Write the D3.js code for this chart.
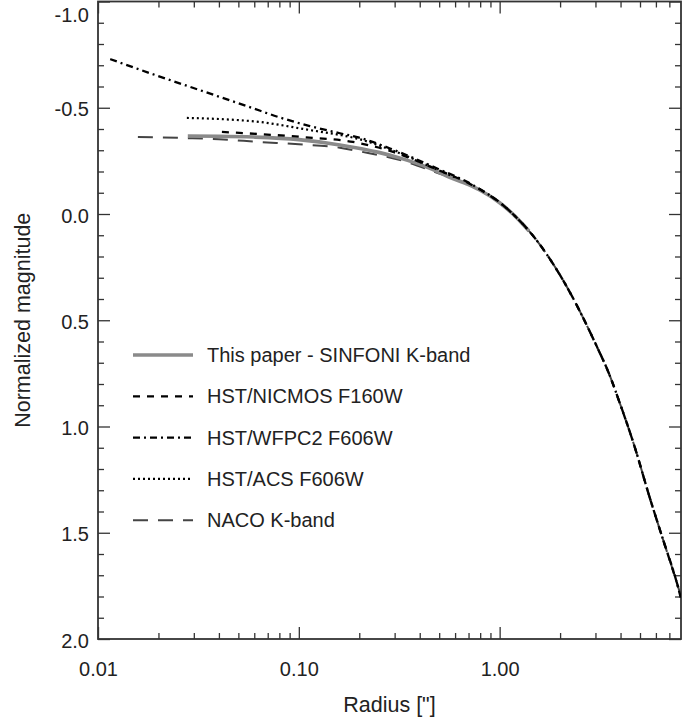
<!DOCTYPE html>
<html><head><meta charset="utf-8">
<script src="https://cdn.jsdelivr.net/npm/d3@7"></script>
<style>body{margin:0;background:#fff}svg{display:block}text{font-family:"Liberation Sans",Arial,Helvetica,sans-serif}</style>
</head><body>
<script>
// ---- data ----
const xMajorTicks = [0.01, 0.1, 1];
const xMajorLabels = ["0.01", "0.10", "1.00"];
const xMinorTicks = [0.02,0.03,0.04,0.05,0.06,0.07,0.08,0.09,0.2,0.3,0.4,0.5,0.6,0.7,0.8,0.9,2,3,4,5,6,7];
const yMajorTicks = [-1.0, -0.5, 0.0, 0.5, 1.0, 1.5, 2.0];
const yMajorLabels = ["-1.0", "-0.5", "0.0", "0.5", "1.0", "1.5", "2.0"];
const yMinorTicks = [-0.9,-0.8,-0.7,-0.6,-0.4,-0.3,-0.2,-0.1,0.1,0.2,0.3,0.4,0.6,0.7,0.8,0.9,1.1,1.2,1.3,1.4,1.6,1.7,1.8,1.9];

const seriesNames = ["This paper - SINFONI K-band", "HST/NICMOS F160W", "HST/WFPC2 F606W", "HST/ACS F606W", "NACO K-band"];

const sinfoniR   = [0.028, 0.04, 0.06, 0.1, 0.16, 0.25, 0.32, 0.45, 0.56, 0.7, 0.795, 1.0, 1.16, 1.4];
const sinfoniMag = [-0.367, -0.366, -0.362, -0.35, -0.325, -0.29, -0.263, -0.215, -0.174, -0.138, -0.113, -0.053, -0.001, 0.08];

const nicmosR   = [0.0414, 0.064, 0.105, 0.186, 0.3, 0.5, 0.7, 0.795, 1.0, 1.16, 1.46, 2.05, 3.07, 3.5, 3.95, 4.7, 5.57, 6.5, 7.6, 8.0];
const nicmosMag = [-0.386, -0.376, -0.362, -0.339, -0.29, -0.205, -0.145, -0.116, -0.054, -0.001, 0.10, 0.305, 0.63, 0.75, 0.885, 1.095, 1.33, 1.53, 1.73, 1.80];

const wfpc2R   = [0.0115, 0.0181, 0.0321, 0.057, 0.08, 0.1135, 0.16, 0.195, 0.3, 0.5, 0.7, 0.795, 1.0, 1.16, 1.46, 2.05, 3.07, 3.5, 3.95, 4.7, 5.57, 6.5, 7.6, 8.0];
const wfpc2Mag = [-0.729, -0.663, -0.583, -0.503, -0.455, -0.414, -0.38, -0.362, -0.3, -0.21, -0.148, -0.118, -0.055, -0.001, 0.10, 0.305, 0.63, 0.75, 0.885, 1.095, 1.33, 1.53, 1.73, 1.81];

const acsR   = [0.0277, 0.04, 0.064, 0.1135, 0.16, 0.195, 0.3, 0.5, 0.6];
const acsMag = [-0.452, -0.447, -0.433, -0.395, -0.372, -0.355, -0.295, -0.205, -0.172];

const nacoR   = [0.0158, 0.028, 0.04, 0.064, 0.1, 0.16, 0.2, 0.32, 0.5, 0.7, 0.795, 1.0, 1.16, 1.46, 2.05, 3.07, 3.5, 3.95, 4.7, 5.57, 6.5, 7.6, 8.0];
const nacoMag = [-0.362, -0.357, -0.352, -0.339, -0.328, -0.312, -0.295, -0.254, -0.19, -0.14, -0.112, -0.053, -0.001, 0.10, 0.305, 0.63, 0.75, 0.885, 1.095, 1.33, 1.53, 1.73, 1.80];

// ---- layout ----
const W = 699, H = 717;
const L = 98, R = 681, T = 1.5, B = 639;
const svg = d3.select("body").append("svg").attr("width", W).attr("height", H);

const x = d3.scaleLog().domain([0.01, 8]).range([L, R]);
const y = d3.scaleLinear().domain([-1, 2]).range([T, B]);

const axisColor = "#333";
function styleAxis(g){
  g.select(".domain").remove();
  g.selectAll(".tick line").attr("stroke", axisColor).attr("stroke-width", 1.3);
  g.selectAll(".tick text").attr("fill", "#222").style("font-size", "20px").style("font-family", '"Liberation Sans",Arial,sans-serif');
}
// bottom
svg.append("g").attr("transform", `translate(0,${B})`)
  .call(d3.axisTop(x).tickValues(xMajorTicks).tickSize(12).tickFormat(""))
  .call(styleAxis);
svg.append("g").attr("transform", `translate(0,${B})`)
  .call(d3.axisTop(x).tickValues(xMinorTicks).tickSize(6).tickFormat(""))
  .call(styleAxis);
svg.append("g").attr("transform", `translate(0,${B})`)
  .call(d3.axisBottom(x).tickValues(xMajorTicks).tickSize(0).tickPadding(23)
        .tickFormat((d,i)=>xMajorLabels[i]))
  .call(styleAxis);
// top
svg.append("g").attr("transform", `translate(0,${T})`)
  .call(d3.axisBottom(x).tickValues(xMajorTicks).tickSize(12).tickFormat(""))
  .call(styleAxis);
svg.append("g").attr("transform", `translate(0,${T})`)
  .call(d3.axisBottom(x).tickValues(xMinorTicks).tickSize(6).tickFormat(""))
  .call(styleAxis);
// left
svg.append("g").attr("transform", `translate(${L},0)`)
  .call(d3.axisRight(y).tickValues(yMajorTicks).tickSize(12).tickFormat(""))
  .call(styleAxis);
svg.append("g").attr("transform", `translate(${L},0)`)
  .call(d3.axisRight(y).tickValues(yMinorTicks).tickSize(6).tickFormat(""))
  .call(styleAxis);
const yLab = svg.append("g").attr("transform", `translate(${L},0)`)
  .call(d3.axisLeft(y).tickValues(yMajorTicks).tickSize(0).tickPadding(9)
        .tickFormat((d,i)=>yMajorLabels[i]))
  .call(styleAxis);
yLab.selectAll(".tick").filter(d=>d===-1.0).select("text").attr("dy", "1.0em");
yLab.selectAll(".tick").filter(d=>d!==-1.0).select("text").attr("dy", "0.4em");

// right
svg.append("g").attr("transform", `translate(${R},0)`)
  .call(d3.axisLeft(y).tickValues(yMajorTicks).tickSize(12).tickFormat(""))
  .call(styleAxis);
svg.append("g").attr("transform", `translate(${R},0)`)
  .call(d3.axisLeft(y).tickValues(yMinorTicks).tickSize(6).tickFormat(""))
  .call(styleAxis);

// frame
svg.append("rect").attr("x", L).attr("y", T).attr("width", R-L).attr("height", B-T)
  .attr("fill", "none").attr("stroke", axisColor).attr("stroke-width", 1.8);

// labels
svg.append("text").attr("x", (L+R)/2).attr("y", 712).attr("text-anchor", "middle")
  .style("font-size", "21.5px").attr("fill", "#222").text('Radius ["]');
svg.append("text").attr("transform", `translate(30,${(T+B)/2}) rotate(-90)`).attr("text-anchor", "middle")
  .style("font-size", "21.5px").attr("fill", "#222").text("Normalized magnitude");

// series
const styles = [
  {r: sinfoniR, m: sinfoniMag, color: "#8a8a8a", width: 3.6, dash: null},
  {r: nicmosR,  m: nicmosMag,  color: "#000",    width: 2.3, dash: "7,7"},
  {r: wfpc2R,   m: wfpc2Mag,   color: "#000",    width: 2.3, dash: "7,4,2,4"},
  {r: acsR,     m: acsMag,     color: "#000",    width: 2.2, dash: "2,3"},
  {r: nacoR,    m: nacoMag,    color: "#444",    width: 2.0, dash: "15,10"}
];
const line = d3.line().x(d=>x(d[0])).y(d=>y(d[1])).curve(d3.curveMonotoneX);
svg.append("clipPath").attr("id","c").append("rect")
  .attr("x", L).attr("y", T).attr("width", R-L).attr("height", B-T);
const plotG = svg.append("g").attr("clip-path","url(#c)");
[4,0,1,3,2].forEach(i=>{
  const s = styles[i];
  const pts = s.r.map((r,j)=>[r, s.m[j]]);
  plotG.append("path").attr("d", line(pts)).attr("fill","none")
    .attr("stroke", s.color).attr("stroke-width", s.width)
    .attr("stroke-dasharray", s.dash);
});

// legend
const legY0 = 355, legDy = 41.3;
seriesNames.forEach((name,i)=>{
  const s = styles[i];
  const yy = legY0 + i*legDy;
  svg.append("line").attr("x1", 133).attr("x2", 193).attr("y1", yy).attr("y2", yy)
    .attr("stroke", s.color).attr("stroke-width", s.width).attr("stroke-dasharray", s.dash);
  svg.append("text").attr("x", 207).attr("y", yy + 7).style("font-size", "20px")
    .attr("fill", "#222").text(name);
});
</script>
</body></html>
